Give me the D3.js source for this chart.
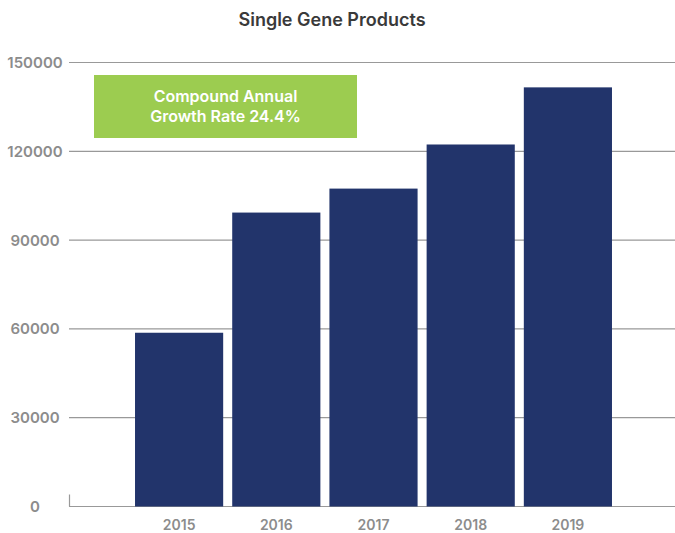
<!DOCTYPE html>
<html>
<head>
<meta charset="utf-8">
<script src="https://cdn.jsdelivr.net/npm/d3@7"></script>
<style>
  body { margin: 0; background: #fff; }
  svg { display: block; font-family: "Inter", "Roboto", sans-serif; }
</style>
</head>
<body>
<div id="chart"></div>
<script>
// chart data
var years = ["2015", "2016", "2017", "2018", "2019"];
var products = [58700, 99300, 107400, 122300, 141600];
var yTicks = [0, 30000, 60000, 90000, 120000, 150000];
var title = "Single Gene Products";
var noteLines = ["Compound Annual", "Growth Rate 24.4%"];

var W = 675, H = 533;

var svg = d3.select("#chart")
    .append("svg")
    .attr("width", W)
    .attr("height", H);

var x = d3.scaleBand()
    .domain(years)
    .range([130.5, 616.5])
    .paddingInner(0.093)
    .paddingOuter(0.0465);

var y = d3.scaleLinear()
    .domain([0, 150000])
    .range([506.5, 62.5]);

// title
svg.append("text")
    .attr("x", 332)
    .attr("y", 26)
    .attr("text-anchor", "middle")
    .style("font-size", "18px")
    .style("font-weight", "600")
    .style("fill", "#3a3a3a")
    .text(title);

// gridlines
svg.append("g")
    .selectAll("line")
    .data(yTicks)
    .enter()
    .append("line")
    .attr("x1", 69)
    .attr("x2", W)
    .attr("y1", function(d) { return y(d); })
    .attr("y2", function(d) { return y(d); })
    .attr("stroke", "#999")
    .attr("stroke-width", 1.2);

// small left tick at the origin
svg.append("line")
    .attr("x1", 69.5).attr("x2", 69.5)
    .attr("y1", y(0) - 12).attr("y2", y(0))
    .attr("stroke", "#999")
    .attr("stroke-width", 1.2);

// y labels
svg.append("g")
    .selectAll("text")
    .data(yTicks)
    .enter()
    .append("text")
    .attr("x", 35)
    .attr("y", function(d) { return y(d); })
    .attr("dy", "0.36em")
    .attr("text-anchor", "middle")
    .style("font-size", "15px")
    .style("font-weight", "600")
    .style("fill", "#8c8c8c")
    .text(function(d) { return d; });

// bars
svg.append("g")
    .selectAll("rect")
    .data(products)
    .enter()
    .append("rect")
    .attr("x", function(d, i) { return x(years[i]); })
    .attr("y", function(d) { return y(d); })
    .attr("width", x.bandwidth())
    .attr("height", function(d) { return y(0) - y(d); })
    .attr("fill", "#22346b");

// x labels
svg.append("g")
    .selectAll("text")
    .data(years)
    .enter()
    .append("text")
    .attr("x", function(d) { return x(d) + x.bandwidth() / 2; })
    .attr("y", 530)
    .attr("text-anchor", "middle")
    .style("font-size", "14px")
    .style("font-weight", "600")
    .style("fill", "#8c8c8c")
    .text(function(d) { return d; });

// growth note
var note = svg.append("g");
note.append("rect")
    .attr("x", 94)
    .attr("y", 75)
    .attr("width", 263)
    .attr("height", 63)
    .attr("fill", "#9ccc50");
note.selectAll("text")
    .data(noteLines)
    .enter()
    .append("text")
    .attr("x", 225.5)
    .attr("y", function(d, i) { return 101.5 + i * 20.5; })
    .attr("text-anchor", "middle")
    .style("font-size", "16px")
    .style("font-weight", "600")
    .style("fill", "#fff")
    .text(function(d) { return d; });
</script>
</body>
</html>
